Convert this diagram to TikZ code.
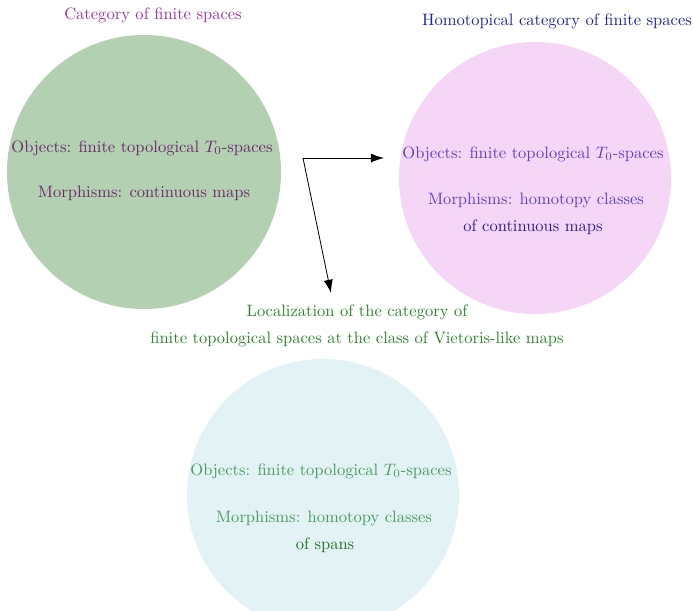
\documentclass[tikz,border=0pt]{standalone}
\usetikzlibrary{arrows.meta}
\definecolor{cA}{HTML}{B3D0B3}
\definecolor{cB}{HTML}{F6D6F6}
\definecolor{cC}{HTML}{E3F2F5}
\definecolor{tA}{HTML}{A032A0}
\definecolor{iA}{HTML}{6A2A6A}
\definecolor{tB}{HTML}{2222A0}
\definecolor{iB}{HTML}{5A40C8}
\definecolor{jB}{HTML}{2A1A9A}
\definecolor{tC}{HTML}{2A862A}
\definecolor{iC}{HTML}{4A9A5E}
\definecolor{jC}{HTML}{207020}
\tikzset{
  lbl/.style={inner sep=0pt, anchor=center},
  conn/.style={-{Latex[length=8pt,width=5.5pt]}, line width=0.5pt}
}
\begin{document}
\begin{tikzpicture}[x=0.605pt,y=-0.605pt]
\useasboundingbox (0,0) rectangle (693,611);
\begin{scope}
\clip (0,0) rectangle (693,611);
\fill[cA] (144,172) circle (137);
\fill[cB] (535,178) circle (136);
\fill[cC] (323,495) circle (136);
\end{scope}
\node[lbl, text=tA] (t1) at (153,15) {Category of finite spaces};
\node[lbl, text=tB] (t2) at (557,21) {Homotopical category of finite spaces};
\node[lbl, text=tC] (t3a) at (357,312) {Localization of the category of};
\node[lbl, text=tC] (t3b) at (357,339) {finite topological spaces at the class of Vietoris-like maps};
\node[lbl, text=iA] (o1) at (142,148) {Objects: finite topological $T_0$-spaces};
\node[lbl, text=iA] (m1) at (144,193) {Morphisms: continuous maps};
\node[lbl, text=iB] (o2) at (533,154) {Objects: finite topological $T_0$-spaces};
\node[lbl, text=iB] (m2) at (536,200) {Morphisms: homotopy classes};
\node[lbl, text=jB] (m2b) at (533,227) {of continuous maps};
\node[lbl, text=iC] (o3) at (321,471) {Objects: finite topological $T_0$-spaces};
\node[lbl, text=iC] (m3) at (324,518) {Morphisms: homotopy classes};
\node[lbl, text=jC] (m3b) at (325,545) {of spans};
\coordinate (s) at (303,158);
\coordinate (e1) at (384,158);
\coordinate (e2) at (331,293);
\draw[conn] (s) -- (e1);
\draw[conn] (s) -- (e2);
\end{tikzpicture}
\end{document}
